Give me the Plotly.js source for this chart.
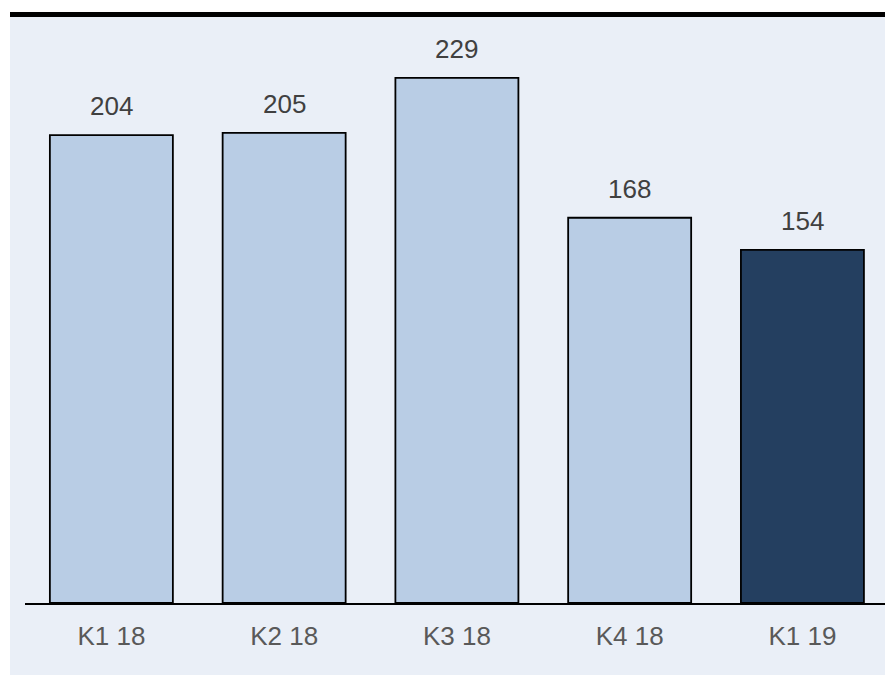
<!DOCTYPE html>
<html>
<head>
<meta charset="utf-8">
<script src="https://cdn.plot.ly/plotly-3.0.1.min.js"></script>
<style>html,body{margin:0;padding:0;background:#fff;}#chart{width:885px;height:675px;}</style>
</head>
<body>
<div id="chart"></div>
<script>
const categories = ["K1 18", "K2 18", "K3 18", "K4 18", "K1 19"];
const values = [204, 205, 229, 168, 154];
const barColors = ["#B9CDE5", "#B9CDE5", "#B9CDE5", "#B9CDE5", "#243F60"];

const W = 885, H = 675;
const ml = 25, mr = 0, mt = 32, mb = 72;
const pw = W - ml - mr, ph = H - mt - mb;
const px = x => (x - ml) / pw;
const py = y => (H - mb - y) / ph;

const trace = {
  type: "bar",
  x: categories,
  y: values,
  marker: { color: barColors, line: { color: "#000000", width: 1.8 } },
  hoverinfo: "none"
};

const annotations = categories.map((c, i) => ({
  x: c, y: values[i], xref: "x", yref: "y",
  text: String(values[i]), showarrow: false,
  yanchor: "bottom", yshift: 12,
  font: { family: "Liberation Sans, Arial, sans-serif", size: 26, color: "#404040" }
}));

const layout = {
  width: W, height: H,
  margin: { l: ml, r: mr, t: mt, b: mb, pad: 0 },
  paper_bgcolor: "#FFFFFF",
  plot_bgcolor: "rgba(0,0,0,0)",
  showlegend: false,
  bargap: 0.288,
  xaxis: {
    type: "category",
    range: [-0.5, 4.478],
    showgrid: false, zeroline: false,
    showline: true, linecolor: "#000000", linewidth: 2,
    ticks: "", ticklabelstandoff: 9,
    tickfont: { family: "Liberation Sans, Arial, sans-serif", size: 26, color: "#595959" },
    fixedrange: true
  },
  yaxis: {
    range: [0, 249],
    showgrid: false, zeroline: false, showline: false,
    showticklabels: false, ticks: "",
    fixedrange: true
  },
  shapes: [
    { type: "rect", xref: "paper", yref: "paper", layer: "below",
      x0: px(10), x1: px(890), y0: py(17), y1: py(680),
      fillcolor: "#EAEFF7", line: { width: 0 } },
    { type: "line", xref: "paper", yref: "paper", layer: "above",
      x0: px(10), x1: px(890), y0: py(14.5), y1: py(14.5),
      line: { color: "#000000", width: 5 } }
  ],
  annotations: annotations
};

Plotly.newPlot("chart", [trace], layout, { displayModeBar: false, staticPlot: true });
</script>
</body>
</html>
